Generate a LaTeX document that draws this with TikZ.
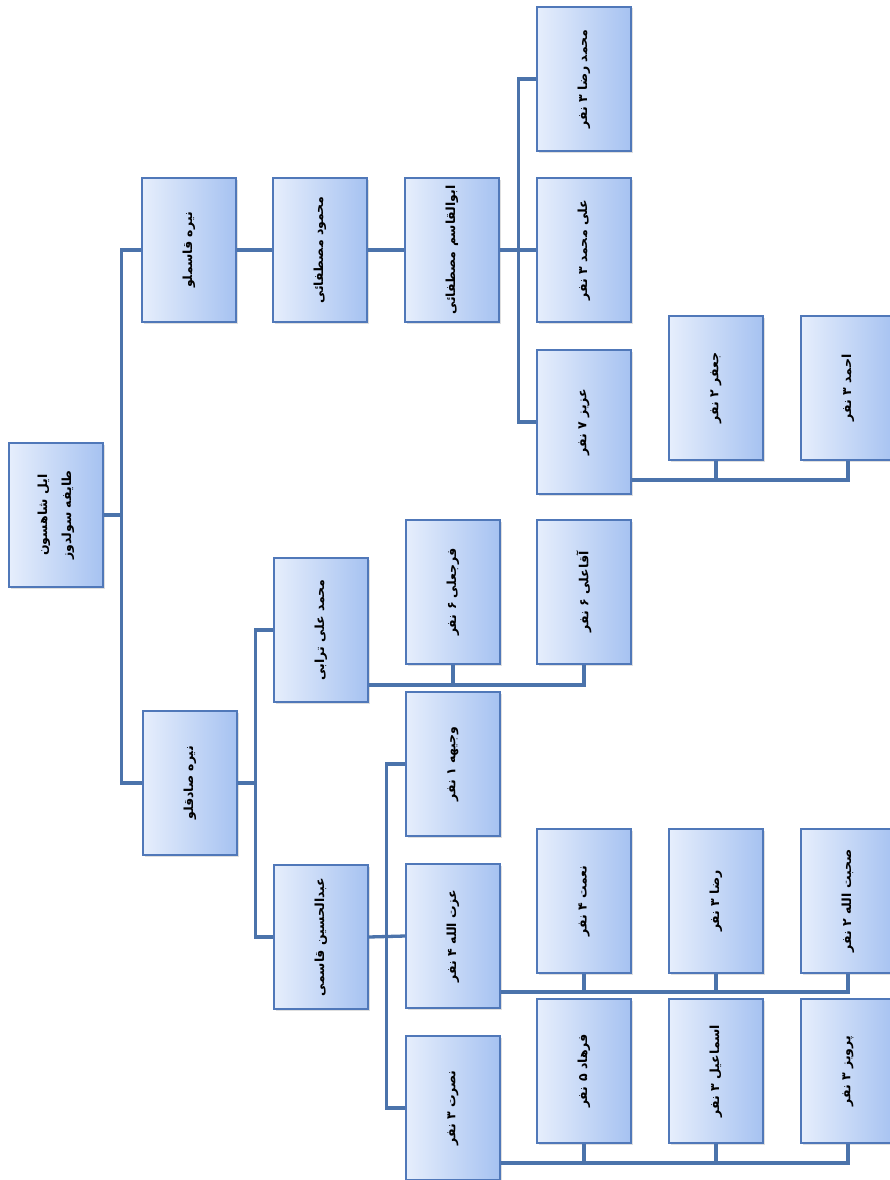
\documentclass[tikz,border=0pt]{standalone}
\usepackage{fontspec}
\usepackage{graphicx}
\usetikzlibrary{calc,shadows}
\TeXXeTstate=1
\newfontfamily\arabicfont[Script=Arabic]{DejaVu Sans}
\definecolor{boxborder}{HTML}{5078B9}
\definecolor{boxlight}{HTML}{E6EEFC}
\definecolor{boxdark}{HTML}{A6C2F1}
\definecolor{connc}{HTML}{4B73AB}
\newcommand{\rl}[1]{\rotatebox{90}{\beginR #1\endR}}
\tikzset{
  box/.style={draw=boxborder, line width=1.2pt, left color=boxlight, right color=boxdark,
    minimum width=94pt, minimum height=144pt, inner sep=0pt,
    font={\arabicfont\bfseries\fontsize{12.5}{15}\selectfont},
    drop shadow={shadow xshift=1.5pt, shadow yshift=-1.5pt, opacity=0.25}},
  conn/.style={draw=connc, line width=3.3pt}
}
\begin{document}
\begin{tikzpicture}[x=1pt,y=-1pt]
\useasboundingbox (0,0) rectangle (890,1180);
% nodes
\node[box] (root) at (56,515) {\rotatebox{90}{\begin{tabular}{c}\beginR ایل شاهسون\endR\\[9pt]\beginR طایفه سولدوز\endR\end{tabular}}};
\node[box] (q) at (189,250) {\rl{نیره قاسملو}};
\node[box] (s) at (190,783) {\rl{نیره صادقلو}};
\node[box] (mm) at (320,250) {\rl{محمود مصطفائی}};
\node[box] (mt) at (321,630) {\rl{محمد علی ترابی}};
\node[box] (ag) at (321,937) {\rl{عبدالحسین قاسمی}};
\node[box] (aq) at (452,250) {\rl{ابوالقاسم مصطفائی}};
\node[box] (fj) at (453,592) {\rl{فرجعلی ۶ نفر}};
\node[box] (vj) at (453,764) {\rl{وجیهه ۱ نفر}};
\node[box] (ez) at (453,936) {\rl{عزت الله ۴ نفر}};
\node[box] (ns) at (453,1108) {\rl{نصرت ۳ نفر}};
\node[box] (mr) at (584,79) {\rl{محمد رضا ۳ نفر}};
\node[box] (am) at (584,250) {\rl{علی محمد ۳ نفر}};
\node[box] (az) at (584,422) {\rl{عزیز ۷ نفر}};
\node[box] (aa) at (584,592) {\rl{آقاعلی ۶ نفر}};
\node[box] (nm) at (584,901) {\rl{نعمت ۴ نفر}};
\node[box] (fr) at (584,1071) {\rl{فرهاد ۵ نفر}};
\node[box] (jf) at (716,388) {\rl{جعفر ۲ نفر}};
\node[box] (rz) at (716,901) {\rl{رضا ۳ نفر}};
\node[box] (es) at (716,1071) {\rl{اسماعیل ۳ نفر}};
\node[box] (ah) at (848,388) {\rl{احمد ۳ نفر}};
\node[box] (sb) at (848,901) {\rl{صحبت الله ۲ نفر}};
\node[box] (pv) at (848,1071) {\rl{پرویز ۳ نفر}};
% junctions
\coordinate (j0) at ($(root.east)+(18,0)$);
\coordinate (j1) at ($(s.east)+(18,0)$);
\coordinate (j2) at ($(aq.east)+(19,0)$);
\coordinate (j3) at ($(ag.east)+(18,0)$);
\coordinate (bz) at ($(az.east)+(0,58)$);
\coordinate (bt) at ($(mt.east)+(0,55)$);
\coordinate (be) at ($(ez.east)+(0,56)$);
\coordinate (bn) at ($(ns.east)+(0,55)$);
% connectors
\draw[conn] (root.east) -- (j0);
\draw[conn] (q.west) -| (j0) |- (s.west);
\draw[conn] (q.east) -- (mm.west);
\draw[conn] (mm.east) -- (aq.west);
\draw[conn] (aq.east) -- (am.west);
\draw[conn] (mr.west) -| (j2) |- (az.west);
\draw[conn] (s.east) -- (j1);
\draw[conn] (mt.west) -| (j1) |- (ag.west);
\draw[conn] (ag.east) -- (ez.west);
\draw[conn] (vj.west) -| (j3) |- (ns.west);
\draw[conn] (bz) -| (ah.south);
\draw[conn] (jf.south) -- (jf.south |- bz);
\draw[conn] (bt) -| (aa.south);
\draw[conn] (fj.south) -- (fj.south |- bt);
\draw[conn] (be) -| (sb.south);
\draw[conn] (nm.south) -- (nm.south |- be);
\draw[conn] (rz.south) -- (rz.south |- be);
\draw[conn] (bn) -| (pv.south);
\draw[conn] (fr.south) -- (fr.south |- bn);
\draw[conn] (es.south) -- (es.south |- bn);
\end{tikzpicture}
\end{document}
